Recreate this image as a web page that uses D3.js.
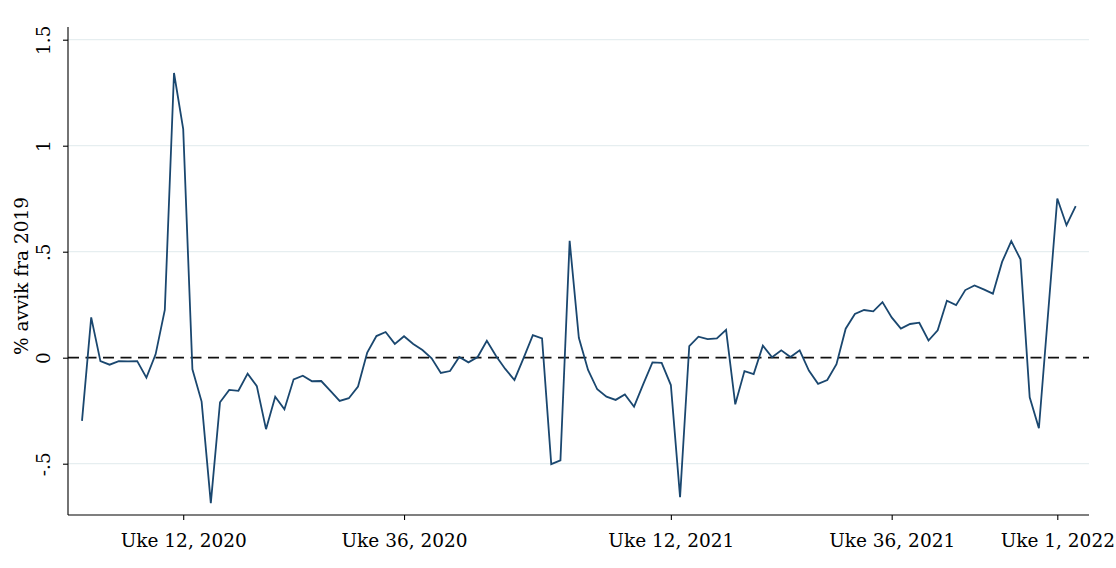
<!DOCTYPE html>
<html>
<head>
<meta charset="utf-8">
<script src="https://cdn.jsdelivr.net/npm/d3@7"></script>
<style>
  html, body { margin: 0; padding: 0; background: #ffffff; }
  svg { display: block; }
  text { font-family: "DejaVu Serif", serif; fill: #000; }
</style>
</head>
<body>
<svg id="chart" width="1116" height="568"></svg>
<script>
// Weekly deviation (%) from 2019, week 1 2020 onward; null = no observation that week
const deviation = [
  -0.298, 0.190, -0.016, -0.033, -0.016, -0.017, -0.016, -0.094, 0.016, 0.225,
   1.343, 1.078, -0.055, -0.207, -0.686, -0.210, -0.152, -0.156, -0.075, -0.134,
  -0.337, -0.184, -0.243, -0.102, -0.085, -0.111, -0.110, -0.157, -0.204, -0.191,
  -0.136, 0.024, 0.102, 0.121, 0.065, 0.101, 0.065, 0.036, -0.003, -0.072,
  -0.063, 0.003, -0.022, 0.003, 0.080, 0.008, -0.053, -0.105, -0.001, 0.106,
   0.091, -0.502, -0.484, 0.551, 0.094, -0.058, -0.149, -0.184, -0.199, -0.173,
  -0.231, -0.125, -0.022, -0.024, -0.129, -0.658, 0.055, 0.099, 0.088, 0.091,
   0.131, -0.220, -0.063, -0.077, 0.057, 0.002, 0.035, 0.003, 0.035, -0.061,
  -0.123, -0.105, -0.031, 0.137, 0.206, 0.225, 0.219, 0.262, 0.190, 0.137,
   0.159, 0.165, 0.081, 0.129, 0.269, 0.248, 0.319, 0.341, 0.322, 0.302,
   0.452, 0.550, 0.464, -0.187, -0.333, null, 0.751, 0.625, 0.715
];

// x-axis ticks (week index) and their labels
const xTickIndex = [11, 35, 64, 88, 106];
const xTickLabels = ["Uke 12, 2020", "Uke 36, 2020", "Uke 12, 2021", "Uke 36, 2021", "Uke 1, 2022"];

// y-axis ticks and labels
const yTicks = [-0.5, 0, 0.5, 1, 1.5];
const yTickLabels = ["-.5", "0", ".5", "1", "1.5"];

const yTitle = "% avvik fra 2019";

const svg = d3.select("#chart");
const fontSize = 18.5;

// plot region edges
const plotLeft = 68, plotRight = 1089, plotTop = 27, plotBottom = 515;

const x = d3.scaleLinear().domain([0, 108]).range([82, 1075.7]);
const y = d3.scaleLinear().domain([0, 1]).range([357.7, 145.7]);

// horizontal grid lines
svg.append("g")
  .selectAll("line")
  .data(yTicks.filter(d => d !== 0))
  .join("line")
  .attr("x1", plotLeft).attr("x2", plotRight)
  .attr("y1", d => y(d)).attr("y2", d => y(d))
  .attr("stroke", "#e6eef0")
  .attr("stroke-width", 1.2);

// dashed zero reference line
svg.append("line")
  .attr("x1", plotLeft).attr("x2", plotRight)
  .attr("y1", y(0)).attr("y2", y(0))
  .attr("stroke", "#111")
  .attr("stroke-width", 1.8)
  .attr("stroke-dasharray", "11,6.5");

// the series; weeks without a value are skipped and the line joins across them
const points = deviation.map((v, i) => ({ i, v })).filter(d => d.v !== null);
const line = d3.line().x(d => x(d.i)).y(d => y(d.v));
svg.append("path")
  .datum(points)
  .attr("d", line)
  .attr("fill", "none")
  .attr("stroke", "#1a476f")
  .attr("stroke-width", 1.8)
  .attr("stroke-linejoin", "miter");

// axes
const yAxis = d3.axisLeft(y)
  .tickValues(yTicks)
  .tickSize(5)
  .tickFormat((d, k) => yTickLabels[k]);
const gy = svg.append("g").attr("transform", `translate(${plotLeft},0)`).call(yAxis);
gy.select(".domain").remove();
gy.append("line")
  .attr("x1", 0).attr("x2", 0)
  .attr("y1", plotTop).attr("y2", plotBottom)
  .attr("stroke", "#000").attr("stroke-width", 1.1);
gy.selectAll(".tick line").attr("stroke", "#000").attr("stroke-width", 1.1);
gy.selectAll(".tick text")
  .attr("x", 0).attr("dy", null).attr("y", 0)
  .attr("transform", "translate(-18,0) rotate(-90)")
  .attr("text-anchor", "middle")
  .attr("font-size", fontSize)
  .attr("font-family", "DejaVu Serif, serif")
  .attr("fill", "#000");

const xAxis = d3.axisBottom(x)
  .tickValues(xTickIndex)
  .tickSize(5)
  .tickFormat((d, k) => xTickLabels[k]);
const gx = svg.append("g").attr("transform", `translate(0,${plotBottom})`).call(xAxis);
gx.select(".domain").remove();
gx.append("line")
  .attr("x1", plotLeft).attr("x2", plotRight)
  .attr("y1", 0).attr("y2", 0)
  .attr("stroke", "#000").attr("stroke-width", 1.1);
gx.selectAll(".tick line").attr("stroke", "#000").attr("stroke-width", 1.1);
gx.selectAll(".tick text")
  .attr("y", 32).attr("dy", null)
  .attr("font-size", fontSize)
  .attr("font-family", "DejaVu Serif, serif")
  .attr("fill", "#000");

// y-axis title
svg.append("text")
  .attr("transform", "translate(28,276) rotate(-90)")
  .attr("text-anchor", "middle")
  .attr("font-size", fontSize)
  .text(yTitle);
</script>
</body>
</html>
